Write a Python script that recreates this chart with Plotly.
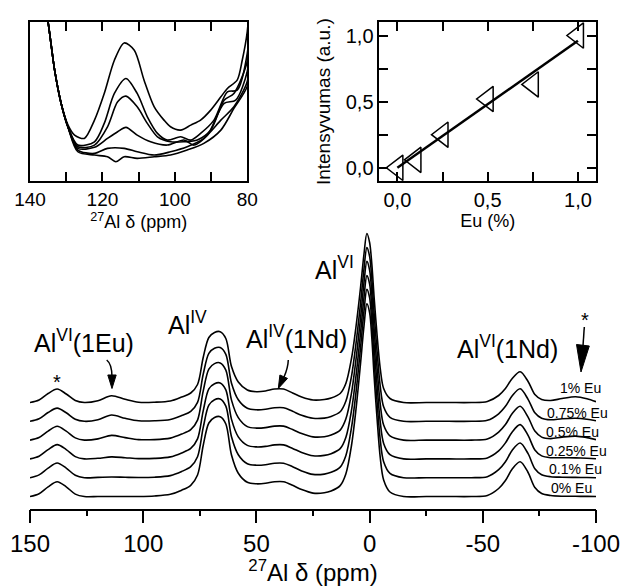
import plotly.graph_objects as go

W, H = 622, 586
FONT = "Liberation Sans, Arial, sans-serif"

# ---------------- main stacked 27Al NMR spectra ----------------
PPM = [150, 146, 142, 138, 134, 130, 126, 120, 114, 108, 102, 95, 88, 83, 79, 76, 73.5, 71, 68.5, 66,
       63.5, 61, 58, 54, 50, 46, 42, 38, 34, 30, 25, 20, 17, 13, 10.5, 8, 6, 4, 2.5, 1.2,
       0, -1, -2, -3.3, -4.7, -6.2, -9, -15, -25, -35, -45, -52, -57, -60, -63, -66.5, -70, -73, -76, -80,
       -85, -91, -96, -100]

SPEC_0 = [0, 2.8, 9.7, 14.8, 9.7, 2.4, 0, 0, 0, 0, 0, 0.5, 2.2, 6.3, 11.2, 21.5, 51, 73.5, 79, 79.8,
          72.5, 41.5, 23.3, 14.2, 12.7, 13.2, 14.7, 14.7, 11.2, 6.9, 3.4, 3.7, 5.5, 10.9, 22.5, 51, 87.5, 133, 170, 192.7,
          184, 158, 120, 78, 39, 16.5, 4.5, 0, 0, 0, 0, 1, 8, 16, 27.5, 34.8, 24, 9, 3, 1,
          0.3, 0.2, 0.1, 0]
SPEC_01 = [0, 2.8, 9.6, 14.7, 9.6, 2.4, 0, 0.3, 0.7, 0.4, 0.2, 0.5, 2.1, 6.2, 11, 21, 50, 72.5, 78, 78.7,
           71.5, 41, 23, 14, 12.5, 13, 14.5, 14.5, 11, 6.8, 3.3, 3.6, 5.4, 10.6, 22, 50, 85.5, 130, 166, 188.3,
           180, 154, 117, 76, 38, 16, 4.4, 0, 0, 0, 0, 1, 8, 16, 27.5, 34.7, 24, 9, 3, 1,
           0.5, 0.3, 0.2, 0]
SPEC_025 = [0, 2.7, 9.3, 14.3, 9.3, 2.3, 0, 0.6, 2, 1.2, 0.3, 0.5, 2, 6, 10.5, 20, 48, 70, 75.2, 76,
            69, 39.5, 22, 13.5, 12, 12.5, 14, 14, 10.5, 6.5, 3.2, 3.5, 5.2, 10.3, 21.5, 48.5, 83, 126, 161, 183.3,
            175, 150, 114, 74, 37, 15.5, 4.3, 0, 0, 0, 0, 1, 8, 16, 27, 34.3, 23.5, 9, 3, 1.2,
            1.2, 1, 0.6, 0.2]
SPEC_05 = [0, 2.6, 9, 13.8, 9, 2.2, 0, 1.2, 4.7, 2.5, 0.5, 0.5, 2, 6, 10.5, 20, 49, 71, 76.5, 77.2,
           70, 40, 22.5, 13.5, 12, 12.5, 14, 14, 10.5, 6.5, 3.2, 3.4, 5, 10, 21, 47, 81, 122, 157, 178.7,
           170, 146, 111, 72, 36, 15, 4.2, 0, 0, 0, 0, 1, 8, 15.5, 26.5, 33.8, 23, 9, 3, 1.5,
           3, 4, 2.5, 0.5]
SPEC_075 = [0, 2.5, 8.8, 13.2, 8.5, 2, 0, 1.5, 6.3, 3, 0.5, 0.5, 1.8, 5.8, 10, 19, 47, 68, 73, 73.8,
            67, 38, 21.5, 13, 11.5, 12, 13.5, 13.5, 10, 6, 3, 3.2, 4.8, 9.5, 20, 45, 78, 118, 152, 173.7,
            165, 142, 108, 70, 35, 14.5, 4, 0, 0, 0, 0, 1, 7.5, 15, 25.5, 32.5, 22, 8.5, 3, 1.5,
            2.5, 3, 2, 0.5]
SPEC_1 = [0, 2.5, 9, 13.5, 8.5, 2, 0, 1.8, 6.8, 3.2, 0.3, 0.3, 1.5, 5.5, 9.5, 18, 45, 65, 70, 70.8,
          64, 36, 20.5, 12.5, 10.8, 11.5, 13.5, 13.5, 9.5, 5.5, 2.5, 3, 4.5, 9, 19, 44, 76, 115, 148, 169,
          160, 138, 105, 67.5, 34, 14, 4, 0, 0, 0, 0, 1, 7, 14, 24, 30.8, 21, 8, 3, 2,
          4, 5.8, 3.8, 0.8]

SAMPLE_LABELS = ["0% Eu", "0.1% Eu", "0.25% Eu", "0.5% Eu", "0.75% Eu", "1% Eu"]
SPECTRA = [SPEC_0, SPEC_01, SPEC_025, SPEC_05, SPEC_075, SPEC_1]
STACK_STEP = 18.8

MAIN_XTICKS = [150, 100, 50, 0, -50, -100]
MAIN_XTEXT = ["150", "100", "50", "0", "-50", "-100"]
MAIN_XMINOR = [125, 75, 25, -25, -75]

# ---------------- inset: 140-80 ppm zoom ----------------
INS_A_X = [136.5, 135, 133.2, 131.4, 129.5, 127.7, 125.0, 122.2, 119.5, 116.7, 114.0, 111.2, 108.5, 105.7, 103.0,
           101.2, 98.4, 95.6, 92.9, 90.1, 87.3, 85.5, 82.8, 81.4, 80, 79.5]
INS_A_Y = [190, 159, 111, 77.7, 56, 46, 42.7, 61, 87.7, 121, 138.3, 131, 101, 74.3, 61,
           54.3, 51, 56, 61, 71, 84.3, 92.7, 101, 121, 150, 175]
INS_B_X = [136.5, 135, 133.2, 131.4, 129.5, 126.8, 122.2, 119.5, 116.7, 113.5, 110.4, 107.6, 104.8, 102.1, 98.4,
           95.6, 92.9, 89.2, 85.5, 82.8, 80, 79.5]
INS_B_Y = [190, 159, 111, 77.7, 54, 36, 39.3, 57.7, 87.7, 102.7, 87.7, 64.3, 47.7, 41, 44.3,
           41, 47.7, 61, 89.3, 91, 128, 160]
INS_C_X = [136.5, 135, 133.2, 131.4, 129.5, 126.8, 122.2, 118.6, 115.8, 113.5, 110.4, 107.6, 104.8, 101.2, 97.5,
           93.8, 90.1, 86.4, 83.7, 80, 79.5]
INS_C_Y = [190, 159, 111, 77.7, 54, 34.3, 36, 54.3, 79.3, 85, 74.3, 57.7, 44.3, 39.3, 39.3,
           41, 51, 81, 87.7, 120, 150]
INS_D_X = [136.5, 135, 133.2, 131.4, 129.5, 126.8, 122.2, 118.6, 115.8, 113.5, 110.4, 106.7, 102.1, 97.5, 94.7,
           91.0, 86.4, 83.2, 80, 79.5]
INS_D_Y = [190, 159, 111, 77.7, 54, 32.7, 33.7, 42.7, 49.3, 53.7, 46, 39.3, 36, 41, 36,
           46, 77.7, 81, 110, 140]
INS_E_X = [136.5, 135, 133.2, 131.4, 129.5, 126.8, 122.2, 118.6, 114, 110.4, 105.7, 101.2, 96.6, 92.0, 87.3,
           83.7, 80, 79.5]
INS_E_Y = [190, 159, 111, 77.7, 54, 31, 27.7, 32.7, 32.7, 29.3, 26, 29.3, 34.3, 42.7, 61,
           74.3, 100, 130]
INS_F_X = [136.5, 135, 133.2, 131.4, 129.5, 126.8, 122.2, 118.6, 116.3, 114, 110.4, 105.7, 101.2, 96.6, 92.0,
           87.3, 83.7, 80, 79.5]
INS_F_Y = [190, 159, 111, 77.7, 54, 29.3, 26, 24.3, 19.3, 24.3, 22.7, 24.3, 26, 31, 37.7,
           51, 72.7, 95, 125]
INSET_XTICKS = [140, 120, 100, 80]
INSET_XMINOR = [130, 110, 90]

# ---------------- intensity vs Eu content ----------------
EU_PCT = [0.0, 0.1, 0.25, 0.5, 0.75, 1.0]
INTENSITY = [0.0, 0.06, 0.25, 0.52, 0.63, 1.0]
FIT_X = [0.0, 1.0]
FIT_Y = [0.0, 0.96]
SCAT_TICKS = [0, 0.5, 1.0]
SCAT_TEXT = ["0,0", "0,5", "1,0"]
SCAT_MINOR = [0.25, 0.75]


def fx(px):
    return px / W


def fy(py):
    return 1 - py / H


fig = go.Figure()

# main spectra
for k, (lab, spec) in enumerate(zip(SAMPLE_LABELS, SPECTRA)):
    fig.add_trace(go.Scatter(
        x=PPM, y=[v + k * STACK_STEP for v in spec], mode="lines",
        line=dict(color="black", width=1.6, shape="spline", smoothing=0.9),
        xaxis="x", yaxis="y", showlegend=False, name=lab))

# inset
for xs, ys in [(INS_A_X, INS_A_Y), (INS_B_X, INS_B_Y), (INS_C_X, INS_C_Y),
               (INS_D_X, INS_D_Y), (INS_E_X, INS_E_Y), (INS_F_X, INS_F_Y)]:
    fig.add_trace(go.Scatter(
        x=xs, y=ys, mode="lines",
        line=dict(color="black", width=1.6, shape="spline", smoothing=0.8),
        xaxis="x2", yaxis="y2", showlegend=False))

# scatter panel
fig.add_trace(go.Scatter(x=FIT_X, y=FIT_Y, mode="lines", line=dict(color="black", width=2.5),
                         xaxis="x3", yaxis="y3", showlegend=False))
fig.add_trace(go.Scatter(x=EU_PCT, y=INTENSITY, mode="markers",
                         marker=dict(symbol="triangle-left-open", size=22, color="black",
                                     line=dict(width=1.5, color="black")),
                         xaxis="x3", yaxis="y3", showlegend=False, cliponaxis=False))

MAIN_BOTTOM, MAIN_TOP = 508.7, 225.0
BASE0 = 496.5
ymin = -(MAIN_BOTTOM - BASE0)
ymax = ymin + (MAIN_BOTTOM - MAIN_TOP)

axis_font = dict(family=FONT, size=24, color="black")
minor_in = dict(ticks="inside", ticklen=9, tickwidth=1.5, tickcolor="black")

fig.update_layout(
    width=W, height=H, margin=dict(l=0, r=0, t=0, b=0, autoexpand=False),
    paper_bgcolor="white", plot_bgcolor="white",
    font=dict(family=FONT, color="black"),
    xaxis=dict(domain=[fx(30), fx(596)], range=[150, -100], anchor="y", automargin=False,
               showline=True, linewidth=1.5, linecolor="black",
               ticks="outside", ticklen=13, tickwidth=1.5, tickcolor="black",
               tickvals=MAIN_XTICKS, ticktext=MAIN_XTEXT, tickfont=axis_font,
               minor=dict(tickvals=MAIN_XMINOR, ticks="outside", ticklen=6,
                          tickwidth=1.5, tickcolor="black"),
               showgrid=False, zeroline=False,
               title=dict(text="<sup>27</sup>Al δ (ppm)", font=axis_font, standoff=0)),
    yaxis=dict(domain=[fy(MAIN_BOTTOM), fy(MAIN_TOP)], range=[ymin, ymax], anchor="x",
               automargin=False, visible=False, showgrid=False, zeroline=False),
    xaxis2=dict(domain=[fx(30), fx(247.3)], range=[140, 80], anchor="y2", automargin=False,
                showline=True, mirror="ticks", linewidth=1.5, linecolor="black",
                ticks="inside", ticklen=9, tickwidth=1.5, tickcolor="black",
                tickvals=INSET_XTICKS, minor=dict(tickvals=INSET_XMINOR, **minor_in),
                tickfont=dict(family=FONT, size=19, color="black"),
                showgrid=False, zeroline=False,
                title=dict(text="<sup>27</sup>Al δ (ppm)", font=dict(family=FONT, size=18, color="black"),
                           standoff=0)),
    yaxis2=dict(domain=[fy(181), fy(22.3)], range=[0, 159], anchor="x2", automargin=False,
                showline=True, mirror=True, linewidth=1.5, linecolor="black",
                ticks="", showticklabels=False, showgrid=False, zeroline=False),
    xaxis3=dict(domain=[fx(379.3), fx(596)], range=[-0.1, 1.1], anchor="y3", automargin=False,
                showline=True, mirror="ticks", linewidth=1.5, linecolor="black",
                ticks="inside", ticklen=9, tickwidth=1.5, tickcolor="black",
                tickvals=SCAT_TICKS, ticktext=SCAT_TEXT, minor=dict(tickvals=SCAT_MINOR, **minor_in),
                tickfont=dict(family=FONT, size=20, color="black"),
                showgrid=False, zeroline=False,
                title=dict(text="Eu (%)", font=dict(family=FONT, size=18, color="black"), standoff=5)),
    yaxis3=dict(domain=[fy(181), fy(22.3)], range=[-0.1, 1.1], anchor="x3", automargin=False,
                showline=True, mirror="ticks", linewidth=1.5, linecolor="black",
                ticks="inside", ticklen=9, tickwidth=1.5, tickcolor="black",
                tickvals=SCAT_TICKS, ticktext=SCAT_TEXT, minor=dict(tickvals=SCAT_MINOR, **minor_in),
                tickfont=dict(family=FONT, size=20, color="black"),
                showgrid=False, zeroline=False,
                title=dict(text="Intensyvumas (a.u.)", font=dict(family=FONT, size=19, color="black"),
                           standoff=10)),
)

ann = []
BIG = dict(family=FONT, size=25, color="black")


def label(text, x, y, font, xanchor="left"):
    ann.append(dict(text=text, x=fx(x), y=fy(y), xref="paper", yref="paper",
                    xanchor=xanchor, yanchor="middle", showarrow=False, font=font))


label("Al<sup>VI</sup>", 313, 268, BIG)
label("Al<sup>IV</sup>", 166, 323, BIG)
label("Al<sup>VI</sup>(1Eu)", 32, 341, BIG)
label("Al<sup>IV</sup>(1Nd)", 244, 337, BIG)
label("Al<sup>VI</sup>(1Nd)", 455, 347, BIG)
label("*", 57, 382, dict(family=FONT, size=20, color="black"), xanchor="center")
label("*", 585, 320, dict(family=FONT, size=20, color="black"), xanchor="center")

SMALL = dict(family=FONT, size=14, color="black")
label_pos = [(571, 487.7), (575, 469.3), (576, 451), (572, 431.7), (577, 412.7), (580, 388.3)]
for lab, (x, y) in zip(SAMPLE_LABELS, label_pos):
    label(lab, x, y, SMALL, xanchor="center")

fig.update_layout(annotations=ann)


def ppath(points, close=False):
    s = ""
    for i, (x, y) in enumerate(points):
        s += ("M" if i == 0 else "L") + f"{fx(x):.5f},{fy(y):.5f} "
    if close:
        s += "Z"
    return s


def qpath(p0, c, p1):
    return (f"M{fx(p0[0]):.5f},{fy(p0[1]):.5f} Q{fx(c[0]):.5f},{fy(c[1]):.5f} "
            f"{fx(p1[0]):.5f},{fy(p1[1]):.5f}")


shapes = []
line_style = dict(color="black", width=1.5)
# arrow to Al VI (1Eu)
shapes.append(dict(type="path", xref="paper", yref="paper", path=qpath((106.7, 360), (112, 364), (112, 377)),
                   line=line_style))
shapes.append(dict(type="path", xref="paper", yref="paper",
                   path=ppath([(107.8, 375), (116.2, 375), (112, 388.5)], close=True),
                   fillcolor="black", line=dict(color="black", width=1)))
# arrow to Al IV (1Nd)
shapes.append(dict(type="path", xref="paper", yref="paper", path=qpath((288.3, 360), (288, 368), (284, 377)),
                   line=line_style))
shapes.append(dict(type="path", xref="paper", yref="paper",
                   path=ppath([(287.5, 378.4), (279.9, 375), (278.3, 388.5)], close=True),
                   fillcolor="black", line=dict(color="black", width=1)))
# arrow under right asterisk
shapes.append(dict(type="line", xref="paper", yref="paper", x0=fx(584.3), y0=fy(327), x1=fx(583), y1=fy(346),
                   line=line_style))
shapes.append(dict(type="path", xref="paper", yref="paper",
                   path=ppath([(576.5, 344.5), (589.3, 346), (581, 372)], close=True),
                   fillcolor="black", line=dict(color="black", width=1)))
fig.update_layout(shapes=shapes)

fig.write_html("out.html")
